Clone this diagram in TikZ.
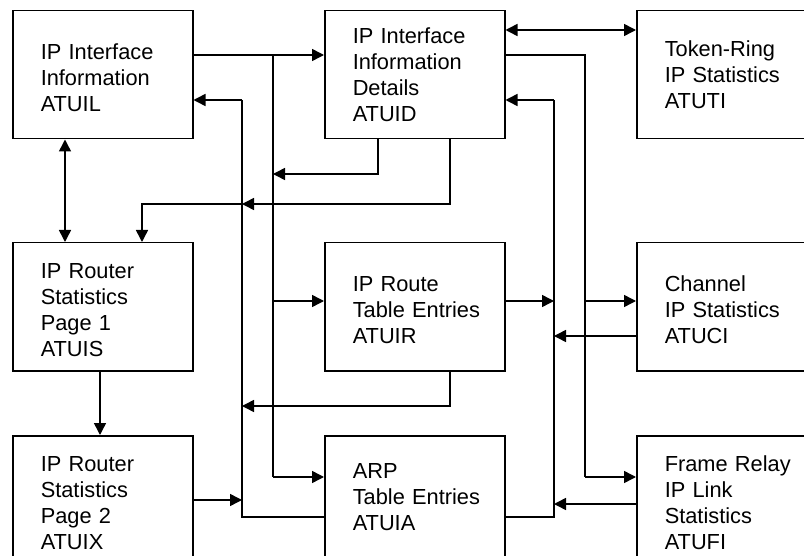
\documentclass[tikz,border=0pt]{standalone}
\usepackage{fontspec}
\setmainfont{Liberation Sans}
\usetikzlibrary{arrows.meta,calc}
\begin{document}
\begin{tikzpicture}[x=1pt,y=-1pt,
  line width=1.5pt,
  panel/.style={draw,anchor=north west,minimum width=180pt,minimum height=128pt,
    inner xsep=28pt,inner ysep=0pt,text width=124pt,align=left,
    font=\fontsize{21.8}{26}\selectfont,
    execute at begin node={\hyphenpenalty=10000\exhyphenpenalty=10000\hbadness=10000\hfuzz=100pt\rule{0pt}{#1}}},
  panel/.default=22pt,
  lift/.style={execute at end node={\rule[-#1]{0pt}{#1}}},
  arr/.style={-{Triangle[length=12pt,width=12pt]}},
  darr/.style={{Triangle[length=12pt,width=12pt]}-{Triangle[length=12pt,width=12pt]}},
  wire/.style={line cap=butt,line join=miter}]
\useasboundingbox (0,0) rectangle (804,556);
\clip (0,0) rectangle (804,556);
% boxes
\node[panel] (ATUIL) at (12,10) {IP~Interface\\Information\\ATUIL};
\node[panel=16pt] (ATUID) at (324,10) {IP~Interface\\Information\\Details\\ATUID};
\node[panel=16pt] (ATUTI) at (636,10) {Token-Ring\\IP~Statistics\\ATUTI};
\node[panel] (ATUIS) at (12,242) {IP~Router\\Statistics\\Page~1\\ATUIS};
\node[panel] (ATUIR) at (324,242) {IP~Route\\Table~Entries\\ATUIR};
\node[panel] (ATUCI) at (636,242) {Channel\\IP~Statistics\\ATUCI};
\node[panel] (ATUIX) at (12,435) {IP~Router\\Statistics\\Page~2\\ATUIX};
\node[panel=16pt,lift=6pt] (ATUIA) at (324,435) {ARP\\Table~Entries\\ATUIA};
\node[panel] (ATUFI) at (636,435) {Frame~Relay\\IP~Link\\Statistics\\ATUFI};
% reference coordinates
\coordinate (y30) at (0,30);
\coordinate (y55) at (0,55);
\coordinate (y100) at (0,100);
\coordinate (y301) at (0,301);
\coordinate (y336) at (0,336);
\coordinate (y500) at (0,500);
\coordinate (y504) at (0,504);
\coordinate (y517) at (0,517);
\coordinate (y477) at (0,477);
\coordinate (x65) at (65,0);
\coordinate (x100) at (100,0);
\coordinate (x142) at (142,0);
\coordinate (x378) at (378,0);
\coordinate (x450) at (450,0);
% buses
\coordinate (At) at (242,100);
\coordinate (Ab) at (242,517);
\coordinate (Bt) at (273,55);
\coordinate (Bb) at (273,477);
\coordinate (Ct) at (554,100);
\coordinate (Cb) at (554,517);
\coordinate (Dt) at (585,55);
\coordinate (Db) at (585,477);
\coordinate (A204) at (242,204);
\coordinate (A406) at (242,406);
\coordinate (A500) at (242,500);
\coordinate (B174) at (273,174);
\coordinate (B301) at (273,301);
\coordinate (C301) at (554,301);
\coordinate (C336) at (554,336);
\coordinate (C504) at (554,504);
\coordinate (D301) at (585,301);
% left side
\draw[wire,darr] (ATUIL.south -| x65) -- (ATUIS.north -| x65);
\draw[wire,arr] (ATUIS.south -| x100) -- (ATUIX.north -| x100);
\draw[wire,arr] (ATUIL.east |- y55) -- (ATUID.west |- y55);
\draw[wire] (Bt) -- (Bb);
\draw[wire,arr] (B301) -- (ATUIR.west |- y301);
\draw[wire,arr] (Bb) -- (ATUIA.west |- y477);
\draw[wire,arr] (ATUID.south -| x378) |- (B174);
\draw[wire,arr] (ATUID.south -| x450) |- (A204);
\draw[wire,arr] (A204) -| (ATUIS.north -| x142);
\draw[wire,arr] (At) -- (ATUIL.east |- y100);
\draw[wire] (At) -- (Ab) -- (ATUIA.west |- y517);
\draw[wire,arr] (ATUIR.south -| x450) |- (A406);
\draw[wire,arr] (ATUIX.east |- y500) -- (A500);
% right side
\draw[wire,darr] (ATUID.east |- y30) -- (ATUTI.west |- y30);
\draw[wire] (ATUID.east |- y55) -- (Dt) -- (Db);
\draw[wire,arr] (Db) -- (ATUFI.west |- y477);
\draw[wire,arr] (D301) -- (ATUCI.west |- y301);
\draw[wire,arr] (Ct) -- (ATUID.east |- y100);
\draw[wire] (Ct) -- (Cb) -- (ATUIA.east |- y517);
\draw[wire,arr] (ATUIR.east |- y301) -- (C301);
\draw[wire,arr] (ATUCI.west |- y336) -- (C336);
\draw[wire,arr] (ATUFI.west |- y504) -- (C504);
\end{tikzpicture}
\end{document}
